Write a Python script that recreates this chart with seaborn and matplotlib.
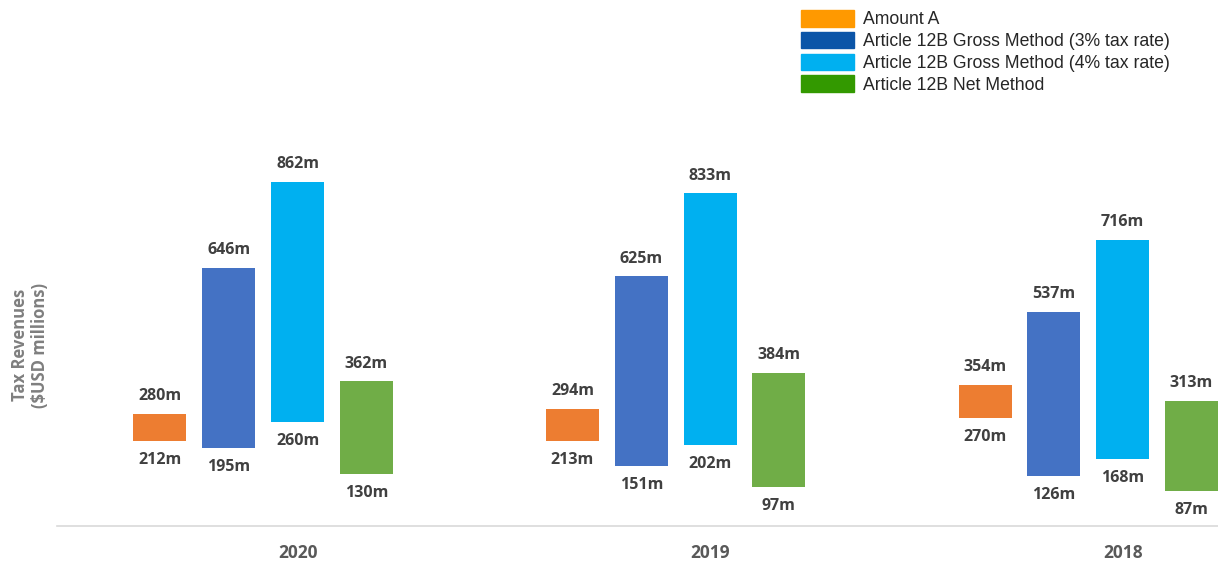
import matplotlib
matplotlib.use("Agg")
import matplotlib.pyplot as plt
import matplotlib.patches as mpatches
import seaborn as sns

sns.set_theme(style="white")
plt.rcParams['font.family'] = ['Open Sans', 'DejaVu Sans']

years = ["2020", "2019", "2018"]
series = ["Amount A",
          "Article 12B Gross Method (3% tax rate)",
          "Article 12B Gross Method (4% tax rate)",
          "Article 12B Net Method"]
low_vals = [[212, 213, 270],
            [195, 151, 126],
            [260, 202, 168],
            [130, 97, 87]]
high_vals = [[280, 294, 354],
             [646, 625, 537],
             [862, 833, 716],
             [362, 384, 313]]
bar_colors = ["#ED7D31", "#4472C4", "#00B0F0", "#70AD47"]
legend_colors = ["#FF9900", "#0B55A8", "#00B0F0", "#339900"]

fig = plt.figure(figsize=(12.18, 5.65), dpi=100)
ax = fig.add_axes([57 / 1218, 39 / 565, 1 - 57 / 1218, 438 / 565])

slot = 0.1668
width = 0.1285
label_color = "#404040"
for i, name in enumerate(series):
    xs = [k + (i - 2) * slot for k in range(len(years))]
    heights = [h - l for h, l in zip(high_vals[i], low_vals[i])]
    ax.bar(xs, heights, width=width, bottom=low_vals[i], color=bar_colors[i],
           edgecolor="none")
    for x, lo, hi in zip(xs, low_vals[i], high_vals[i]):
        ax.annotate(f"{hi}m", (x, hi), xytext=(0, 7), textcoords="offset points",
                    ha="center", va="bottom", fontsize=11.5, fontweight="bold",
                    color=label_color)
        ax.annotate(f"{lo}m", (x, lo), xytext=(0, -8), textcoords="offset points",
                    ha="center", va="top", fontsize=11.5, fontweight="bold",
                    color=label_color)

ax.set_xlim(-0.583, 2.231)
ax.set_ylim(0, 1097)
ax.set_xticks(range(len(years)))
ax.set_xticklabels(years, fontsize=12.5, fontweight="bold", color="#595959")
ax.tick_params(axis="x", length=0, pad=13)
ax.set_yticks([])
for s in ["top", "right", "left"]:
    ax.spines[s].set_visible(False)
ax.spines["bottom"].set_color("#D9D9D9")
ax.spines["bottom"].set_linewidth(1.2)

fig.text(30 / 1218, 1 - 345 / 565, "Tax Revenues\n($USD millions)", rotation=90,
         ha="center", va="center", fontsize=12, fontweight="bold",
         color="#7F7F7F", linespacing=1.1)

handles = [mpatches.Patch(color=c, label=n) for c, n in zip(legend_colors, series)]
fig.legend(handles=handles, loc="upper left", bbox_to_anchor=(796 / 1218, 1 - 5 / 565),
           frameon=False, prop={"family": "Liberation Sans", "size": 12.7},
           handlelength=3.0, handleheight=1.05, handletextpad=0.5,
           labelspacing=0.2, borderaxespad=0, borderpad=0.3)

fig.savefig("out.png", dpi=100)
